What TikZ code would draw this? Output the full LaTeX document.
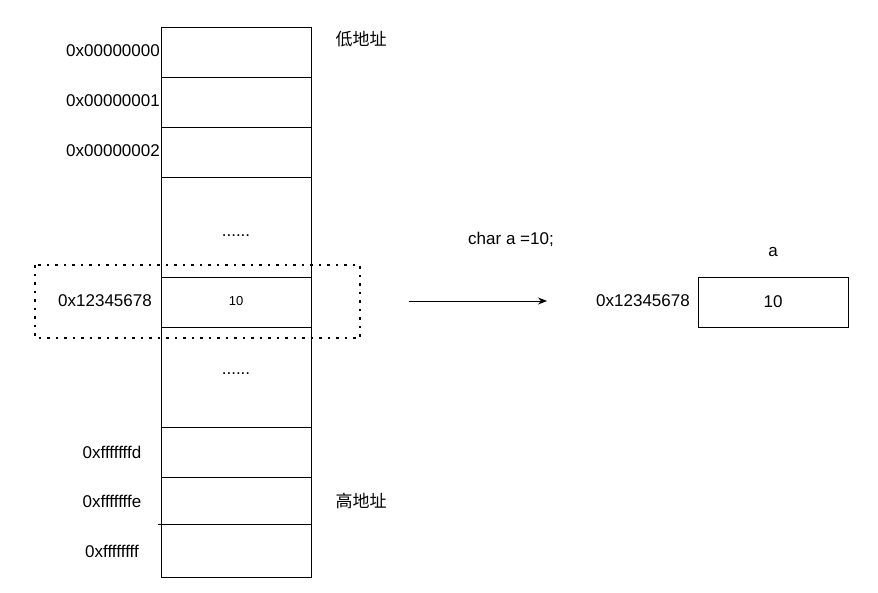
\documentclass[tikz,border=0pt]{standalone}
\usepackage{fontspec}
\setmainfont{Liberation Sans}
\newfontfamily\cjk{Noto Sans CJK SC}
\usetikzlibrary{arrows.meta}
\begin{document}
\begin{tikzpicture}[x=1pt,y=-1pt,
  lab/.style={font=\fontsize{17}{19}\selectfont,inner sep=0pt},
  cell/.style={draw,line width=0.8pt}]
\useasboundingbox (0,0) rectangle (878,592);
\draw[line width=0.8pt] (161,27) rectangle (311,577);
\foreach \y in {77,127,177,277,327,427,477,524} \draw[line width=0.8pt] (161,\y) -- (311,\y);
\draw[line width=0.8pt] (158,524) -- (161,524);
\node[lab,anchor=east] (l0) at (160,51) {0x00000000};
\node[lab,anchor=east] (l1) at (160,101) {0x00000001};
\node[lab,anchor=east] (l2) at (160,151) {0x00000002};
\node[lab] (lm) at (105,301) {0x12345678};
\node[lab] (ld) at (112,452) {0xfffffffd};
\node[lab] (le) at (112,501) {0xfffffffe};
\node[lab] (lf) at (112,551) {0xffffffff};
\node[lab] (d1) at (236,236) {......};
\node[lab] (d2) at (236,374) {......};
\node[lab,font=\fontsize{13}{15}\selectfont] (v) at (236,301) {10};
\node[lab,font=\fontsize{17}{19}\selectfont\cjk] (lo) at (361,39) {低地址};
\node[lab,font=\fontsize{17}{19}\selectfont\cjk] (hi) at (361,501) {高地址};
\draw[line width=2.5pt,dash pattern=on 2.5pt off 6pt] (35,265) rectangle (360,338);
\coordinate (as) at (409,301);
\coordinate (ae) at (547,301);
\draw[-{Stealth[length=9pt,width=7pt]},line width=0.8pt] (as) -- (ae);
\node[lab] (code) at (511,239) {char a =10;};
\node[lab] (an) at (773,252) {a};
\node[cell,minimum width=150pt,minimum height=50pt,lab,draw] (box) at (773,302) {10};
\node[lab] (addr) at (643,301) {0x12345678};
\end{tikzpicture}
\end{document}
